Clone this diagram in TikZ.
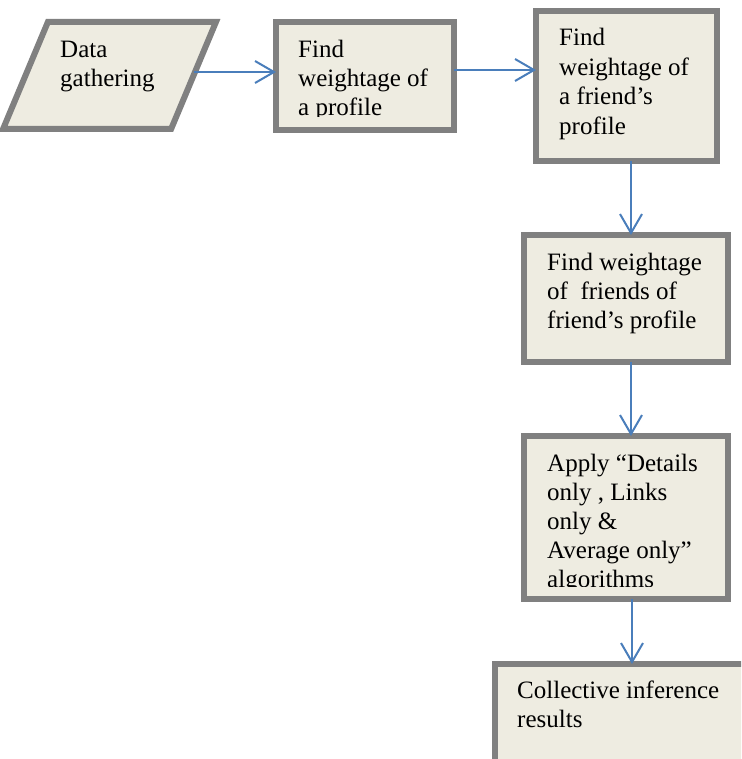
\documentclass[tikz,border=0pt]{standalone}
\usepackage{fontspec}
\setmainfont{Liberation Serif}
\usetikzlibrary{shapes.geometric,arrows.meta}
\definecolor{boxgray}{RGB}{128,128,128}
\definecolor{boxfill}{RGB}{238,236,225}
\definecolor{flowblue}{RGB}{74,126,187}

\begin{document}
\begin{tikzpicture}[x=1pt,y=-1pt,
	stepbox/.style={draw=boxgray,fill=boxfill,line width=6pt,outer sep=0pt,inner sep=0pt},
	boxtext/.style={anchor=base west,inner sep=0pt,align=left,font=\fontsize{25}{29}\selectfont},
	flow/.style={draw=flowblue,line width=2pt,-{Straight Barb[length=19pt,width=22pt]}}]
\useasboundingbox (0,0) rectangle (741,759);
\clip (0,0) rectangle (741,759);
% boxes
\node[stepbox,inner sep=2pt,trapezium,trapezium left angle=70,trapezium right angle=110,trapezium stretches=true,
	minimum width=213pt,minimum height=107pt] (data) at (109.5,75.5) {};
\node[stepbox,minimum width=178pt,minimum height=108pt] (prof) at (365,76) {};
\node[stepbox,minimum width=181pt,minimum height=150pt] (friend) at (626.5,86) {};
\node[stepbox,minimum width=204pt,minimum height=127pt] (fof) at (626,298.5) {};
\node[stepbox,minimum width=204pt,minimum height=163pt] (algo) at (626,517.5) {};
\node[stepbox,minimum width=266pt,minimum height=112pt] (result) at (628,720) {};
% texts (anchored on the baseline of their last line)
\node[boxtext] (dataText) at (60,87) {Data\\gathering};
\begin{scope}
	\clip (280,25) rectangle (450,117);
	\node[boxtext] (profText) at (298,116) {Find\\weightage of\\a profile};
\end{scope}
\node[boxtext,font=\fontsize{25}{29.5}\selectfont] (friendText) at (559,134.5) {Find\\weightage of\\a friend's\\profile};
\node[boxtext] (fofText) at (547,328) {Find weightage\\of~ friends of\\friend's profile};
\begin{scope}
	\clip (528,440) rectangle (724,586);
	\node[boxtext] (algoText) at (547,587) {Apply ``Details\\only , Links\\only \&\\Average only''\\algorithms};
\end{scope}
\node[boxtext] (resultText) at (517,727) {Collective inference\\results};
% connectors
\draw[flow] (data.east |- 0,72) -- (prof.west |- 0,72);
\draw[flow] (prof.east |- 0,70) -- (friend.west |- 0,70);
\draw[flow] (friend.south -| 631,0) -- (fof.north -| 631,0);
\draw[flow] (fof.south -| 631,0) -- (algo.north -| 631,0);
\draw[flow] (algo.south -| 632,0) -- (result.north -| 632,0);
\end{tikzpicture}
\end{document}
